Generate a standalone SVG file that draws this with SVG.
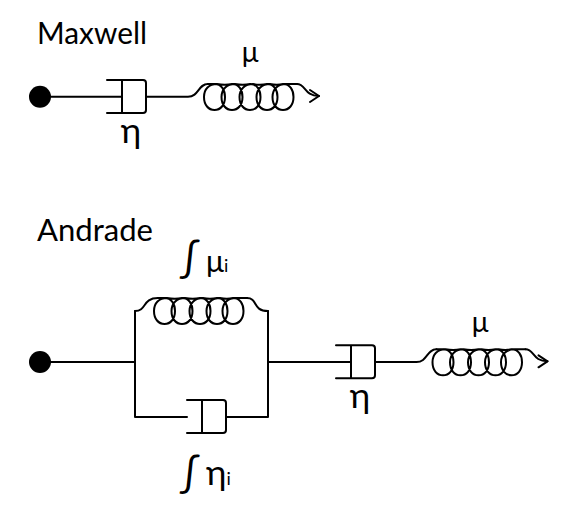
<svg xmlns="http://www.w3.org/2000/svg" width="582" height="512" viewBox="0 0 582 512">
<style>
.l{fill:none;stroke:#000;stroke-width:2;stroke-linecap:round;stroke-linejoin:round}
.t{font-family:"Lato","Noto Sans",sans-serif;fill:#000}
</style>
<defs>
<path id="coil" class="l" d="M208,84 H214.500 C221.500,84 225,90 225,97 C225,105 220.500,110 214.500,110 C208.500,110 204,105 204,97 C204,89 209,84 217,84 Q225,85.500 232,84 C239,84 242.500,90 242.500,97 C242.500,105 238,110 232,110 C226,110 221.500,105 221.500,97 C221.500,89 227,84 235,84 Q243,85.500 250,84 C257,84 260.500,90 260.500,97 C260.500,105 256,110 250,110 C244,110 239.500,105 239.500,97 C239.500,89 245,84 253,84 Q260,85.500 267,84 C274,84 277.500,90 277.500,97 C277.500,105 273,110 267,110 C261,110 256.500,105 256.500,97 C256.500,89 262,84 270,84 Q277,85.500 283,84 C290,84 293.500,90 293.500,97 C293.500,105 289,110 283,110 C277,110 272.500,105 272.500,97 C272.500,89 278,84 286,84 H297"/>
<path id="pot" class="l" d="M107,80 H143 Q146,80 146,83 V110 Q146,113 143,113 H107 M122,80 V112"/>
</defs>
<g id="connectors">
<path class="l" d="M40,96.700 H122 M146,96.700 H188 C199,96.700 198,84 208,84 M297,84 C306,84 304,96 319,96"/>
<path class="l" d="M310,90 L319,96 L310,102 M538.500,355.300 L547.500,361.300 L538.500,367.300"/>
<path class="l" d="M40,362 H135 M135,311 V417 H187 M268,311 V417 H226 M268,362 H351 M375,362 H416.500 C427.500,362 426.500,349.300 436.500,349.300 M525.500,349.300 C534.500,349.300 532.500,361.300 547.500,361.300"/>
<path class="l" d="M135,311 C147,311 142,298 158,298 M247,298 C258,298 252,311 268,311"/>
</g>
<g id="maxwell-anchor"><circle cx="40" cy="96.700" r="11"/></g>
<g id="maxwell-dashpot"><use href="#pot"/></g>
<g id="maxwell-spring"><use href="#coil"/></g>
<g id="andrade-anchor"><circle cx="40" cy="362" r="11"/></g>
<g id="andrade-spring"><use href="#coil" transform="translate(-50,214)"/></g>
<g id="andrade-inner-dashpot"><use href="#pot" transform="translate(80,320)"/></g>
<g id="andrade-dashpot"><use href="#pot" transform="translate(229,265.300)"/></g>
<g id="andrade-outer-spring"><use href="#coil" transform="translate(228.500,265.300)"/></g>
<g id="labels">
<text class="t" x="37" y="44" font-size="30" textLength="110" lengthAdjust="spacingAndGlyphs">Maxwell</text>
<text class="t" x="250" y="62" font-size="28" text-anchor="middle">μ</text>
<text class="t" x="131" y="143" font-size="35" text-anchor="middle">η</text>
<text class="t" x="37" y="241" font-size="30" textLength="116" lengthAdjust="spacingAndGlyphs">Andrade</text>
<text class="t" x="189.500" y="272" font-size="40" text-anchor="middle">∫</text>
<text class="t" x="206" y="272" font-size="30">μ<tspan font-size="18">i</tspan></text>
<text class="t" x="189.500" y="487" font-size="40" text-anchor="middle">∫</text>
<text class="t" x="206" y="485" font-size="35">η<tspan font-size="18">i</tspan></text>
<text class="t" x="480" y="332" font-size="28" text-anchor="middle">μ</text>
<text class="t" x="360" y="408" font-size="35" text-anchor="middle">η</text>
</g>
</svg>
